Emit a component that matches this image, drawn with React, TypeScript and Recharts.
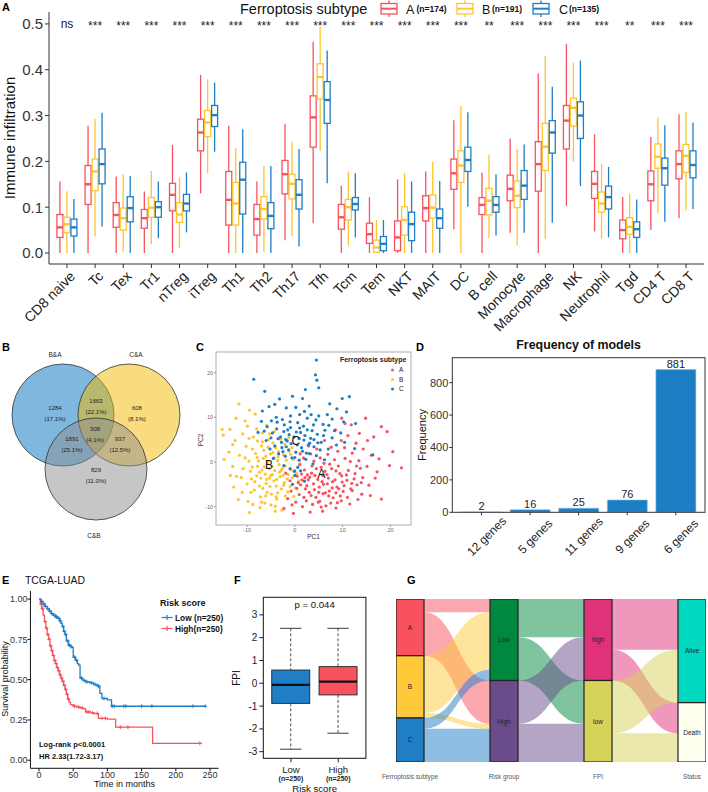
import React from "react";
import {
  Bar, BarChart, ComposedChart, LabelList, Line, Sankey, Scatter, ScatterChart, XAxis, YAxis,
} from "recharts";

const FONT = '"Liberation Sans", Arial, Helvetica, sans-serif';
const RED = "#F8525E";
const YELLOW = "#FEC52E";
const BLUE = "#1F7EC6";

// ---------- A: immune infiltration by ferroptosis subtype ----------
const cells = [
  "CD8 naive", "Tc", "Tex", "Tr1", "nTreg", "iTreg", "Th1", "Th2", "Th17", "Tfh", "Tcm", "Tem",
  "NKT", "MAIT", "DC", "B cell", "Monocyte", "Macrophage", "NK", "Neutrophil", "Tgd", "CD4 T", "CD8 T",
];
const sigLabels = [
  "ns", "***", "***", "***", "***", "***", "***", "***", "***", "***", "***", "***",
  "***", "***", "***", "**", "***", "***", "***", "***", "**", "***", "***",
];
// [min, q1, median, q3, max]
const boxA = [
  [0, 0.034, 0.056, 0.084, 0.156], [0, 0.106, 0.15, 0.191, 0.278], [0, 0.056, 0.083, 0.11, 0.167],
  [0, 0.054, 0.076, 0.095, 0.134], [0, 0.092, 0.127, 0.152, 0.236], [0.13, 0.223, 0.263, 0.292, 0.389],
  [0, 0.061, 0.116, 0.178, 0.278], [0, 0.039, 0.074, 0.106, 0.156], [0.028, 0.129, 0.172, 0.202, 0.282],
  [0.065, 0.231, 0.296, 0.343, 0.461], [0, 0.052, 0.078, 0.106, 0.147], [0, 0.021, 0.041, 0.065, 0.122],
  [0, 0.005, 0.034, 0.07, 0.161], [0, 0.07, 0.098, 0.125, 0.178], [0.052, 0.139, 0.174, 0.205, 0.29],
  [0, 0.084, 0.105, 0.121, 0.175], [0.044, 0.114, 0.14, 0.17, 0.25], [0, 0.135, 0.194, 0.243, 0.392],
  [0.103, 0.227, 0.289, 0.322, 0.456], [0.047, 0.119, 0.151, 0.178, 0.259], [0, 0.031, 0.05, 0.072, 0.122],
  [0.05, 0.114, 0.15, 0.179, 0.253], [0.076, 0.162, 0.194, 0.223, 0.303],
];
const boxB = [
  [0, 0.044, 0.063, 0.078, 0.135], [0.036, 0.136, 0.178, 0.205, 0.293], [0.003, 0.05, 0.076, 0.098, 0.172],
  [0.019, 0.078, 0.099, 0.121, 0.179], [0.01, 0.067, 0.084, 0.11, 0.165], [0.174, 0.254, 0.285, 0.311, 0.379],
  [0, 0.061, 0.108, 0.154, 0.229], [0.003, 0.074, 0.096, 0.123, 0.19], [0.037, 0.118, 0.151, 0.172, 0.243],
  [0.223, 0.336, 0.384, 0.413, 0.494], [0.016, 0.072, 0.1, 0.117, 0.178], [0, 0.002, 0.012, 0.028, 0.072],
  [0, 0.039, 0.072, 0.101, 0.175], [0, 0.076, 0.099, 0.127, 0.199], [0, 0.154, 0.191, 0.223, 0.321],
  [0.033, 0.083, 0.114, 0.141, 0.215], [0.017, 0.099, 0.125, 0.157, 0.227], [0.03, 0.18, 0.232, 0.283, 0.43],
  [0.199, 0.277, 0.317, 0.338, 0.415], [0.031, 0.089, 0.108, 0.133, 0.194], [0, 0.041, 0.057, 0.077, 0.129],
  [0.087, 0.185, 0.21, 0.238, 0.296], [0.092, 0.176, 0.212, 0.237, 0.308],
];
const boxC = [
  [0, 0.037, 0.056, 0.074, 0.118], [0.058, 0.151, 0.194, 0.227, 0.306], [0, 0.068, 0.098, 0.123, 0.168],
  [0.032, 0.078, 0.1, 0.112, 0.156], [0.045, 0.092, 0.108, 0.128, 0.176], [0.221, 0.276, 0.301, 0.322, 0.372],
  [0, 0.085, 0.16, 0.198, 0.27], [0, 0.053, 0.081, 0.11, 0.19], [0.014, 0.096, 0.127, 0.16, 0.227],
  [0.152, 0.283, 0.334, 0.374, 0.442], [0.034, 0.094, 0.107, 0.121, 0.174], [0, 0.005, 0.02, 0.036, 0.072],
  [0, 0.027, 0.063, 0.089, 0.156], [0, 0.054, 0.076, 0.096, 0.157], [0.101, 0.178, 0.203, 0.231, 0.307],
  [0.038, 0.089, 0.105, 0.123, 0.172], [0.044, 0.117, 0.147, 0.18, 0.237], [0.066, 0.218, 0.263, 0.289, 0.363],
  [0.146, 0.25, 0.3, 0.33, 0.42], [0.034, 0.096, 0.122, 0.146, 0.188], [0, 0.034, 0.052, 0.068, 0.117],
  [0.068, 0.148, 0.185, 0.207, 0.279], [0.096, 0.164, 0.192, 0.223, 0.285],
];
const SIG_Y = 0.5;

// ---------- B: venn ----------
const vennNames = ["B&A", "C&A", "C&B"];
const vennCx = [0, 1.294, 0.647];
const vennCy = [0, 0, -1.059];
const vennR = [1, 1, 1];
const vennNameX = [-0.157, 1.431, 0.608];
const vennNameY = [1.176, 1.176, -2.373];
const vennCounts = [1284, 1663, 608, 308, 1891, 937, 829];
const vennPct = ["17.1%", "22.1%", "8.1%", "4.1%", "25.1%", "12.5%", "11.0%"];
const vennLabelX = [-0.157, 0.647, 1.45, 0.63, 0.176, 1.118, 0.647];
const vennLabelY = [0.02, 0.17, 0.02, -0.39, -0.57, -0.57, -1.18];
const VX = [-1.235, 2.686];
const VY = [-2.549, 1.373];

// ---------- C: PCA ----------
const pcaA = [
  [0.5, -3.2], [1.2, -5.1], [2.0, -1.8], [2.8, -4.0], [3.5, -2.5], [4.1, -6.2], [4.8, -3.9], [5.5, -1.2], [6.0, -5.0], [6.7, -2.8],
  [7.3, -0.5], [7.9, -4.4], [8.6, -2.0], [9.2, -6.0], [9.8, -3.1], [10.5, 0.8], [11.2, -1.9], [11.9, -4.8], [12.6, -2.6], [13.4, 0.3],
  [14.2, -3.5], [15.1, -1.0], [16.0, 1.5], [17.2, -2.2], [18.1, -8.3], [18.1, 7.9], [19.3, 6.8], [20.5, 2.3], [22.3, -1.3], [19.8, -0.8],
  [-0.8, -6.5], [-1.5, -8.2], [-2.3, -10.4], [-1.0, -4.2], [0.2, -9.0], [0.9, -7.3], [1.6, -10.0], [2.4, -8.7], [3.0, -6.8], [3.7, -9.5],
  [4.4, -7.9], [5.2, -8.8], [5.9, -7.1], [6.5, -9.8], [7.2, -6.5], [8.0, -8.0], [8.8, -5.6], [9.5, -7.6], [10.3, -5.3], [11.0, -7.9],
  [12.0, -6.4], [13.0, -5.1], [14.0, -7.2], [1.0, -0.6], [1.8, 0.9], [2.6, -2.9], [3.3, 1.8], [4.0, 0.2], [4.6, 2.9], [5.3, 0.9],
  [6.1, -0.3], [6.9, 1.7], [7.6, 3.3], [8.3, 0.5], [9.0, 2.4], [9.7, 4.8], [10.4, 3.2], [11.1, 5.9], [12.0, 2.0], [12.8, 4.2],
  [13.5, 6.4], [14.3, 2.9], [15.2, 4.8], [16.5, 5.6], [9.8, 9.8], [10.5, 8.6], [14.8, 9.8], [8.5, 7.2], [11.8, 8.3], [0.0, -2.0],
  [0.7, -4.6], [1.4, -2.7], [2.2, -6.0], [3.1, -3.4], [3.9, -4.9], [4.5, -1.5], [5.1, -5.6], [5.8, -3.0], [6.4, -6.9], [7.0, -3.6],
  [7.7, -1.5], [8.4, -4.0], [9.1, -0.9], [9.9, -4.5], [10.8, -2.9], [11.6, 0.1], [12.4, -3.8], [13.7, -1.4], [15.5, -5.2], [16.8, -3.6],
  [17.6, 0.7], [-0.3, -11.5], [3.2, -11.2], [5.8, -11.0], [8.6, -10.3], [1.1, 1.8], [2.9, 3.6], [6.2, 4.8], [-1.9, -2.5],
  [1.5, -4.0], [2.5, -5.3], [3.4, -7.5], [4.2, -3.0], [5.0, -6.8], [5.7, -4.4], [6.3, -2.1], [7.1, -7.6], [7.8, -5.8], [8.6, -6.9],
  [9.4, -2.6], [10.1, -6.6], [10.9, -4.1], [11.7, -6.0], [12.9, -0.9], [13.9, -4.6], [3.6, -0.9], [4.9, -9.0], [6.8, -4.9], [8.9, -9.1],
  [2.1, -3.5], [0.4, -5.9], [-0.6, -9.6], [1.9, -7.9], [5.5, -10.1], [7.5, -9.2], [9.7, -8.7], [11.5, -9.4], [13.2, -8.4], [15.8, -7.5],
];
const pcaB = [
  [-15.2, 7.3], [-15.0, 6.0], [-13.6, 7.3], [-11.7, 13.0], [-9.5, 11.6], [-8.3, 10.7], [-10.4, 9.2], [-12.5, 4.8], [-13.8, 2.2], [-14.8, 0.6],
  [-13.0, -1.0], [-12.2, -3.2], [-11.0, -6.8], [-9.8, -8.8], [-7.3, -10.2], [-9.5, -11.3], [-5.0, -9.6], [-3.8, -8.3], [-2.7, -10.8], [-11.6, 1.5],
  [-10.8, -1.5], [-10.2, 3.5], [-9.6, 0.2], [-9.1, -3.8], [-8.7, 5.6], [-8.2, 1.9], [-7.8, -1.0], [-7.4, -5.4], [-7.0, 3.6], [-6.6, 0.8],
  [-6.2, -2.7], [-5.8, -6.8], [-5.5, 5.0], [-5.1, 1.8], [-4.8, -0.9], [-4.4, -4.2], [-4.0, 3.2], [-3.6, 0.3], [-3.2, -2.3], [-2.8, -6.0],
  [-2.4, 1.6], [-2.0, -0.9], [-1.6, -3.8], [-1.2, 2.4], [-0.8, -1.8], [-0.3, 0.6], [0.4, -2.6], [1.1, -0.4], [1.9, 0.8], [-10.0, -4.9],
  [-9.3, -2.1], [-8.9, 2.9], [-8.5, -6.3], [-8.0, -3.1], [-7.6, 0.2], [-7.2, -7.8], [-6.9, -1.8], [-6.5, 2.6], [-6.0, -4.8], [-5.7, -0.1],
  [-5.3, -3.6], [-4.9, -7.2], [-4.6, 4.3], [-4.2, -1.9], [-3.9, -5.4], [-3.5, 1.1], [-3.1, -3.3], [-2.6, -1.4], [-2.2, -4.6], [-1.8, 0.4],
  [-1.4, -2.8], [-1.0, -5.5], [-0.5, -3.5], [0.1, -5.8], [0.8, -4.2], [-8.0, 7.4], [-6.8, 6.5], [-5.9, 8.2], [-4.3, 6.8], [-3.0, 5.1],
  [-2.1, 4.0], [-1.3, 5.5], [-0.6, 3.2], [-6.3, -9.2], [-8.8, -9.5], [-4.1, -9.9], [-11.8, -8.4], [-12.8, -5.6], [-13.5, -3.0], [-7.8, 4.7],
  [-6.1, 1.3], [-5.4, -1.5], [-4.6, 2.1], [-3.3, -0.6], [-5.0, -3.0], [-6.7, -5.9], [-3.6, -6.9], [-2.0, -7.6], [-7.1, -3.6], [-9.6, 5.3],
  [-10.9, 6.3],
  [-6.4, -1.1], [-5.9, -3.9], [-5.2, -5.5], [-4.7, -2.8], [-4.3, 0.9], [-3.8, -3.9], [-3.4, 2.3], [-2.9, -1.9], [-2.5, -3.0], [-7.4, -2.3],
  [-7.9, 1.0], [-8.4, -4.4], [-8.9, -1.1], [-6.8, 4.5], [-5.6, 3.3], [-3.9, -7.8], [-6.1, -7.6], [-9.2, -6.8], [-10.4, 0.9], [-11.2, -3.5],
  [-1.5, -6.7], [-0.9, 1.7], [-2.3, -5.2], [-7.0, -9.0], [-5.3, 6.3], [-9.9, 8.0], [-12.3, 9.8], [-13.0, 3.9], [-4.1, -11.0], [-0.2, -7.7],
];
const pcaC = [
  [4.5, 22.8], [4.3, 19.5], [4.6, 18.3], [5.0, 16.6], [-8.6, 18.5], [-6.3, 15.8], [9.9, 14.2], [11.4, 14.6], [-5.4, 12.4], [-4.2, 12.9],
  [3.0, 12.5], [-1.8, 12.1], [0.2, 12.2], [1.6, 14.2], [6.8, 10.6], [7.8, 9.6], [-3.9, 10.0], [-7.0, 9.1], [-5.8, 7.9], [10.8, 11.2],
  [10.2, 9.0], [12.7, 8.6], [-2.6, 9.5], [-0.9, 10.3], [1.0, 10.6], [2.6, 9.8], [4.4, 9.4], [5.9, 8.4], [-4.7, 6.5], [-3.8, 7.4],
  [-3.0, 5.6], [-2.3, 6.8], [-1.6, 4.7], [-0.9, 7.7], [-0.2, 5.6], [0.5, 3.8], [1.2, 6.6], [1.9, 4.9], [2.6, 7.2], [3.3, 5.3],
  [4.0, 3.4], [4.7, 6.2], [5.5, 4.4], [6.3, 7.1], [7.0, 2.9], [7.8, 5.4], [8.7, 3.8], [9.6, 6.5], [10.4, 4.4], [-4.2, 3.6],
  [-3.4, 1.8], [-2.7, 3.2], [-2.0, 1.3], [-1.3, 2.7], [-0.6, 0.9], [0.2, 2.2], [0.9, 0.4], [1.6, 2.4], [2.3, 0.6], [3.0, 1.9],
  [3.8, -0.4], [4.5, 1.4], [5.3, 2.7], [6.2, 0.5], [-1.0, -1.5], [0.0, -3.0], [1.2, -2.0], [-2.3, -0.8], [2.0, -4.3], [-0.5, -5.0],
  [-6.0, 4.8], [-5.2, 2.9], [-4.5, 0.8], [-3.7, 8.9], [-2.2, 8.3], [-1.2, 6.1], [0.6, 8.8], [1.8, 8.0], [3.6, 7.0], [5.0, 10.3],
  [-6.8, 11.4], [-3.2, 14.1], [-0.5, 14.7], [2.2, 16.2], [7.3, 13.0], [8.8, 11.9], [16.3, 1.6], [12.5, 3.0], [-7.7, 6.6], [2.8, 3.8],
  [-1.9, 5.0], [0.9, 5.2], [4.0, 5.0],
  [-2.8, 4.4], [-1.8, 3.4], [-0.8, 4.1], [0.3, 6.7], [1.4, 3.2], [2.1, 5.9], [3.1, 4.2], [3.9, 8.3], [-3.5, 5.2], [-2.5, 2.3],
  [-1.5, 7.2], [0.0, 1.0], [1.0, 7.6], [2.4, 2.0], [4.8, 4.3], [6.0, 5.9], [-4.9, 9.2], [-1.0, 9.0], [2.0, 11.3], [3.4, 10.6],
  [7.1, 8.2], [8.3, 7.0], [-6.4, 6.9], [-5.0, 5.4], [0.6, -1.2], [-0.1, -2.1],
];
const pcaTags = ["A", "B", "C"];
const pcaTagX = [5.6, -5.4, 0.2];
const pcaTagY = [-2.7, -0.7, 4.8];

// ---------- D: model frequency ----------
const modelNames = ["12 genes", "5 genes", "11 genes", "9 genes", "6 genes"];
const modelFreq = [2, 16, 25, 76, 881];

// ---------- E: Kaplan-Meier ----------
const lowT = [0, 3, 6, 9, 12, 15, 18, 21, 24, 27, 30, 32, 34, 36, 38, 40, 43, 46, 48, 50, 53, 56, 58, 60, 64, 68, 74, 80, 85, 89, 92, 100, 106, 243];
const lowS = [1, 0.985, 0.97, 0.955, 0.94, 0.925, 0.91, 0.9, 0.89, 0.88, 0.865, 0.85, 0.83, 0.8, 0.78, 0.74, 0.715, 0.705, 0.7, 0.64, 0.62, 0.6, 0.59, 0.51, 0.495, 0.487, 0.48, 0.47, 0.46, 0.415, 0.383, 0.375, 0.335, 0.335];
const highT = [0, 2, 4, 6, 8, 10, 12, 14, 16, 18, 20, 22, 24, 26, 28, 30, 32, 34, 36, 38, 40, 42, 44, 46, 50, 55, 60, 65, 68, 75, 80, 87, 100, 112, 166, 238];
const highS = [1, 0.97, 0.94, 0.9, 0.86, 0.82, 0.78, 0.75, 0.71, 0.68, 0.65, 0.62, 0.6, 0.575, 0.555, 0.53, 0.51, 0.49, 0.465, 0.44, 0.41, 0.38, 0.36, 0.345, 0.335, 0.33, 0.325, 0.32, 0.3, 0.295, 0.29, 0.26, 0.255, 0.205, 0.105, 0.105];
const lowCensor = [4, 7, 9, 13, 16, 19, 22, 25, 26, 29, 31, 35, 37, 39, 42, 44, 47, 52, 55, 62, 66, 70, 77, 82, 87, 95, 107, 110, 124, 127, 150, 165, 225, 243];
const highCensor = [3, 5, 9, 11, 13, 15, 17, 19, 21, 23, 25, 27, 29, 31, 33, 35, 37, 39, 41, 43, 52, 58, 63, 70, 73, 78, 85, 92, 97, 119, 130, 235];

// ---------- F: FPI by risk ----------
const fpiGroups = ["Low", "High"];
const fpiN = [250, 250];
const fpiBoxes = [
  [-2.89, -0.88, -0.07, 0.58, 2.41],
  [-2.19, -0.51, 0.07, 0.73, 2.41],
];
const fpiColors = [BLUE, RED];

// ---------- G: alluvial ----------
const stageNodes = ["A", "B", "C", "Low", "High", "high", "low", "Alive", "Death"];
const stageColors = [RED, "#FFC93A", BLUE, "#00883F", "#6A4C8B", "#DF3278", "#D7D25A", "#00D8C0", "#FFFFF0"];
const linkSrc = [0, 0, 1, 1, 2, 2, 3, 3, 4, 4, 5, 5, 6, 6];
const linkTgt = [3, 4, 3, 4, 3, 4, 5, 6, 5, 6, 7, 8, 7, 8];
const linkVal = [41, 133, 176, 15, 33, 102, 117, 133, 133, 117, 156, 94, 162, 88];
const stageTitles = ["Ferroptosis subtype", "Risk group", "FPI", "Status"];

const immuneRows = cells.map((cat, i) => ({ cat, A: boxA[i], B: boxB[i], C: boxC[i], sig: sigLabels[i], sigY: SIG_Y }));

function boxShape(key: string, color: string) {
  return (p: any) => {
    const v = p.payload[key] as number[];
    const lo = v[0], hi = v[4];
    const py = (val: number) => p.y + ((hi - val) / (hi - lo)) * p.height;
    const cx = p.x + p.width / 2;
    const bx = p.x + 0.5, bw = p.width - 1;
    return (
      <g>
        <line x1={cx} x2={cx} y1={py(hi)} y2={py(v[3])} stroke={color} strokeWidth={1.3} />
        <line x1={cx} x2={cx} y1={py(v[1])} y2={py(lo)} stroke={color} strokeWidth={1.3} />
        <rect x={bx} y={py(v[3])} width={bw} height={py(v[1]) - py(v[3])} fill="#fff" stroke={color} strokeWidth={1.3} />
        <line x1={bx} x2={bx + bw} y1={py(v[2])} y2={py(v[2])} stroke={color} strokeWidth={2.4} />
      </g>
    );
  };
}

// right-aligned label, top-right corner at the tick
function SlantTick(p: any) {
  const fs = 14;
  const ax = p.x + 2;
  return (
    <g transform={`translate(${ax},${p.y}) rotate(-45)`}>
      <text x={0} y={0} dy={fs * 0.72} textAnchor="end" fontSize={fs} fill="#222">{p.payload.value}</text>
    </g>
  );
}

function ImmunePanel() {
  return (
    <ComposedChart width={708} height={345} data={immuneRows} margin={{ top: 12, right: 4, bottom: 0, left: 0 }}
      barGap={0} barCategoryGap="12.5%">
      <XAxis dataKey="cat" type="category" interval={0} height={81} padding={{ left: 3.9, right: 3.9 }}
        tickSize={4} tickMargin={2} stroke="#333" tick={<SlantTick />} />
      <YAxis type="number" domain={[-0.024, 0.526]} allowDataOverflow ticks={[0, 0.1, 0.2, 0.3, 0.4, 0.5]}
        tickFormatter={(v: number) => v.toFixed(1)} width={49} tickSize={4} tickMargin={2} stroke="#333"
        tick={{ fontSize: 15, fill: "#333" }} />
      <Bar dataKey={(d: any) => [d.A[0], d.A[4]]} shape={boxShape("A", RED)} isAnimationActive={false} />
      <Bar dataKey={(d: any) => [d.B[0], d.B[4]]} shape={boxShape("B", YELLOW)} isAnimationActive={false} />
      <Bar dataKey={(d: any) => [d.C[0], d.C[4]]} shape={boxShape("C", BLUE)} isAnimationActive={false} />
      <Scatter dataKey="sigY" isAnimationActive={false}
        shape={(p: any) => (
          <text x={p.cx} y={p.cy + (p.payload.sig === "ns" ? 4 : 6)} textAnchor="middle" fontSize={12} fill="#222">
            {p.payload.sig}
          </text>
        )} />
    </ComposedChart>
  );
}

function VennPanel() {
  const pxPerUnit = 200 / (VX[1] - VX[0]);
  const circles = vennNames.map((name, i) => ({ name, x: vennCx[i], y: vennCy[i], r: vennR[i], i }));
  const regions = vennCounts.map((n, i) => ({ n, pct: vennPct[i], x: vennLabelX[i], y: vennLabelY[i] }));
  const names = vennNames.map((name, i) => ({ name, x: vennNameX[i], y: vennNameY[i] }));
  const fills = ["#0070C0", "#F1B900", "#8D8D8D"];
  return (
    <ScatterChart width={200} height={200} margin={{ top: 0, right: 0, bottom: 0, left: 0 }}>
      <XAxis type="number" dataKey="x" domain={VX} hide allowDataOverflow />
      <YAxis type="number" dataKey="y" domain={VY} hide allowDataOverflow />
      <Scatter data={circles} isAnimationActive={false}
        shape={(p: any) => (
          <circle cx={p.cx} cy={p.cy} r={p.payload.r * pxPerUnit} fill={fills[p.payload.i]} fillOpacity={0.5}
            stroke="#333" strokeWidth={0.8} />
        )} />
      <Scatter data={regions} isAnimationActive={false}
        shape={(p: any) => (
          <g fontSize={6} fill="#222" textAnchor="middle">
            <text x={p.cx} y={p.cy - 3.5}>{p.payload.n}</text>
            <text x={p.cx} y={p.cy + 7.5}>({p.payload.pct})</text>
          </g>
        )} />
      <Scatter data={names} isAnimationActive={false}
        shape={(p: any) => (
          <text x={p.cx} y={p.cy + 2} fontSize={6.5} fill="#222" textAnchor="middle">{p.payload.name}</text>
        )} />
    </ScatterChart>
  );
}

function PcaPanel() {
  const rows = (pts: number[][]) => pts.map(([x, y]) => ({ x, y }));
  const dot = (color: string) => (p: any) => <circle cx={p.cx} cy={p.cy} r={1.6} fill={color} />;
  const tags = pcaTags.map((t, i) => ({ t, x: pcaTagX[i], y: pcaTagY[i] }));
  return (
    <ScatterChart width={225} height={205} margin={{ top: 12, right: 4, bottom: 0, left: 0 }}>
      <XAxis type="number" dataKey="x" domain={[-16.5, 24.3]} allowDataOverflow ticks={[-10, 0, 10, 20]} height={20}
        axisLine={false} tickSize={2} tickMargin={1} stroke="#999" tick={{ fontSize: 5.5, fill: "#666" }} />
      <YAxis type="number" dataKey="y" domain={[-14.1, 24.6]} allowDataOverflow ticks={[-10, 0, 10, 20]} width={26}
        axisLine={false} tickSize={2} tickMargin={1} stroke="#999" tick={{ fontSize: 5.5, fill: "#666" }} />
      <Scatter data={rows(pcaB)} shape={dot(YELLOW)} isAnimationActive={false} />
      <Scatter data={rows(pcaA)} shape={dot(RED)} isAnimationActive={false} />
      <Scatter data={rows(pcaC)} shape={dot(BLUE)} isAnimationActive={false} />
      <Scatter data={tags} isAnimationActive={false}
        shape={(p: any) => (
          <text x={p.cx} y={p.cy + 4} fontSize={12} fill="#111" textAnchor="middle">{p.payload.t}</text>
        )} />
    </ScatterChart>
  );
}

function ModelPanel() {
  const data = modelNames.map((name, i) => ({ name, freq: modelFreq[i] }));
  return (
    <BarChart width={293} height={230} data={data} margin={{ top: 22.7, right: 3, bottom: 20, left: 0 }} barCategoryGap="9%">
      <XAxis dataKey="name" type="category" interval={0} height={32.7} padding={{ left: 4.9, right: 4.9 }} axisLine={false}
        tickSize={3} tickMargin={2} stroke="#333" angle={-45}
        tick={{ fontSize: 12, fill: "#222", textAnchor: "middle", verticalAnchor: "middle", dx: 2, dy: 16 }} />
      <YAxis domain={[0, 954]} allowDataOverflow ticks={[0, 200, 400, 600, 800]} width={37.3} axisLine={false}
        tickSize={3} tickMargin={1} stroke="#333" tick={{ fontSize: 11, fill: "#333" }} />
      <Bar dataKey="freq" fill="#1D7EC4" stroke="#8CC0E6" strokeWidth={0.6} isAnimationActive={false}>
        <LabelList dataKey="freq" position="top" offset={2} fontSize={11} fill="#222" />
      </Bar>
    </BarChart>
  );
}

const stepAt = (ts: number[], ss: number[], t: number) => {
  let s = ss[0];
  ts.forEach((tt, i) => { if (tt <= t) s = ss[i]; });
  return s;
};

function SurvivalPanel() {
  const lowRows = lowT.map((t, i) => ({ t, s: lowS[i] }));
  const highRows = highT.map((t, i) => ({ t, s: highS[i] }));
  const lowMarks = lowCensor.map((t) => ({ t, s: stepAt(lowT, lowS, t) }));
  const highMarks = highCensor.map((t) => ({ t, s: stepAt(highT, highS, t) }));
  const plus = (color: string) => (p: any) => (
    <g stroke={color} strokeWidth={0.9}>
      <line x1={p.cx - 2} x2={p.cx + 2} y1={p.cy} y2={p.cy} />
      <line x1={p.cx} x2={p.cx} y1={p.cy - 2} y2={p.cy + 2} />
    </g>
  );
  return (
    <ComposedChart width={222} height={222} margin={{ top: 21, right: 3.4, bottom: 0, left: 0 }}>
      <XAxis type="number" dataKey="t" domain={[-12.5, 262.5]} allowDataOverflow ticks={[0, 50, 100, 150, 200, 250]}
        height={23.7} tickSize={3} tickMargin={0} stroke="#111" tick={{ fontSize: 9, fill: "#333" }} />
      <YAxis type="number" domain={[-0.05, 1.05]} allowDataOverflow ticks={[0, 0.25, 0.5, 0.75, 1]}
        tickFormatter={(v: number) => v.toFixed(2)} width={30.45} tickSize={3} tickMargin={0} stroke="#111"
        tick={{ fontSize: 9, fill: "#333" }} />
      <Line data={highRows} dataKey="s" type="stepAfter" stroke={RED} strokeWidth={1.3} dot={false} isAnimationActive={false} />
      <Line data={lowRows} dataKey="s" type="stepAfter" stroke={BLUE} strokeWidth={1.3} dot={false} isAnimationActive={false} />
      <Scatter data={highMarks} dataKey="s" shape={plus(RED)} isAnimationActive={false} />
      <Scatter data={lowMarks} dataKey="s" shape={plus(BLUE)} isAnimationActive={false} />
    </ComposedChart>
  );
}

function FpiPanel() {
  const data = fpiGroups.map((g, i) => ({ g, v: fpiBoxes[i] }));
  const shape = (p: any) => {
    const v = p.payload.v as number[];
    const lo = v[0], hi = v[4];
    const py = (val: number) => p.y + ((hi - val) / (hi - lo)) * p.height;
    const cx = p.x + p.width / 2;
    const cap = p.width * 0.28;
    return (
      <g stroke="#222">
        <line x1={cx} x2={cx} y1={py(hi)} y2={py(v[3])} strokeDasharray="3 2" strokeWidth={0.8} />
        <line x1={cx} x2={cx} y1={py(v[1])} y2={py(lo)} strokeDasharray="3 2" strokeWidth={0.8} />
        <line x1={cx - cap} x2={cx + cap} y1={py(hi)} y2={py(hi)} strokeWidth={0.9} />
        <line x1={cx - cap} x2={cx + cap} y1={py(lo)} y2={py(lo)} strokeWidth={0.9} />
        <rect x={p.x} y={py(v[3])} width={p.width} height={py(v[1]) - py(v[3])} fill={fpiColors[p.index]} strokeWidth={0.9} />
        <line x1={p.x} x2={p.x + p.width} y1={py(v[2])} y2={py(v[2])} strokeWidth={2.3} stroke="#111" />
      </g>
    );
  };
  return (
    <BarChart width={140} height={207} data={data} margin={{ top: 12.3, right: 4.1, bottom: 0, left: 0 }} barCategoryGap="9.4%">
      <XAxis dataKey="g" interval={0} height={33.7} padding={{ left: 4, right: 4 }} axisLine={false} tickSize={4}
        tickMargin={2} stroke="#222"
        tick={(p: any) => (
          <g fill="#222" textAnchor="middle">
            <text x={p.x} y={p.y + 9} fontSize={9.6}>{p.payload.value}</text>
            <text x={p.x} y={p.y + 17} fontSize={7} fontWeight="bold">(n={fpiN[p.index]})</text>
          </g>
        )} />
      <YAxis domain={[-3.29, 3.77]} allowDataOverflow ticks={[-3, -2, -1, 0, 1, 2, 3]} width={33.3} axisLine={false}
        tickSize={4} tickMargin={2} stroke="#222" tick={{ fontSize: 10, fill: "#222" }} />
      <Bar dataKey={(d: any) => [d.v[0], d.v[4]]} shape={shape} isAnimationActive={false} />
    </BarChart>
  );
}

function StageNode(p: any) {
  return (
    <g>
      <rect x={p.x} y={p.y} width={p.width} height={p.height} fill={stageColors[p.index]} stroke="#222" strokeWidth={1.2} />
      <text x={p.x + p.width / 2} y={p.y + p.height / 2 + 2.3} fontSize={6.5} fill="#222" textAnchor="middle">
        {stageNodes[p.index]}
      </text>
    </g>
  );
}

function FlowRibbon(p: any) {
  const h = p.linkWidth / 2;
  const { sourceX: sx, targetX: tx, sourceY: sy, targetY: ty, sourceControlX: sc, targetControlX: tc } = p;
  const d = `M${sx},${sy - h} C${sc},${sy - h} ${tc},${ty - h} ${tx},${ty - h} L${tx},${ty + h} ` +
    `C${tc},${ty + h} ${sc},${sy + h} ${sx},${sy + h} Z`;
  return <path d={d} fill={stageColors[linkSrc[p.index]]} fillOpacity={0.5} stroke="none" />;
}

function AlluvialPanel() {
  const data = {
    nodes: stageNodes.map((name) => ({ name })),
    links: linkSrc.map((s, i) => ({ source: s, target: linkTgt[i], value: linkVal[i] })),
  };
  return (
    <Sankey width={310} height={163} data={data} nodeWidth={28} nodePadding={0} iterations={0}
      margin={{ top: 0, right: 0, bottom: 0, left: 0 }}
      node={(p: any) => <StageNode {...p} />} link={(p: any) => <FlowRibbon {...p} />} />
  );
}

function BoxKey({ x, color }: { x: number; color: string }) {
  return (
    <g stroke={color} strokeWidth={1.3} fill="#fff">
      <line x1={x + 8} x2={x + 8} y1={0.5} y2={17} />
      <rect x={x} y={3.5} width={16} height={10.5} />
      <line x1={x} x2={x + 16} y1={8.7} y2={8.7} strokeWidth={2} />
    </g>
  );
}

function Overlay() {
  const letter = (t: string, x: number, y: number) => (
    <text x={x} y={y} fontSize={11} fontWeight="bold" fill="#000">{t}</text>
  );
  const colCenters = [410, 504, 598, 692];
  return (
    <svg width={708} height={792} fontFamily={FONT}
      style={{ position: "absolute", left: 0, top: 0, pointerEvents: "none", overflow: "visible" }}>
      {letter("A", 2, 10.5)}
      {letter("B", 2, 350.5)}
      {letter("C", 196, 350.5)}
      {letter("D", 416, 350.5)}
      {letter("E", 2, 584)}
      {letter("F", 234, 584)}
      {letter("G", 407, 584)}

      {/* A legend + y title */}
      <text x={240} y={14} fontSize={14.5} fill="#111">Ferroptosis subtype</text>
      <BoxKey x={381} color={RED} />
      <BoxKey x={457} color={YELLOW} />
      <BoxKey x={533} color={BLUE} />
      <text x={406} y={14} fontSize={12.5} fill="#111">A</text>
      <text x={416.5} y={11.5} fontSize={8.5} fontWeight="bold" fill="#111">(n=174)</text>
      <text x={482} y={14} fontSize={12.5} fill="#111">B</text>
      <text x={492} y={11.5} fontSize={8.5} fontWeight="bold" fill="#111">(n=191)</text>
      <text x={559} y={14} fontSize={12.5} fill="#111">C</text>
      <text x={569} y={11.5} fontSize={8.5} fontWeight="bold" fill="#111">(n=135)</text>
      <text x={15} y={138} fontSize={15} fill="#111" textAnchor="middle" transform="rotate(-90 15 138)">Immune infiltration</text>

      {/* C frame, titles, legend */}
      <rect x={216} y={352} width={195} height={173} fill="none" stroke="#999" strokeWidth={0.8} />
      <text x={202.5} y={440} fontSize={6.5} fill="#333" textAnchor="middle" transform="rotate(-90 202.5 440)">PC2</text>
      <text x={313.5} y={538.5} fontSize={6.5} fill="#333" textAnchor="middle">PC1</text>
      <text x={340} y={362} fontSize={6.9} fontWeight="bold" fill="#222">Ferroptosis subtype</text>
      <circle cx={392.5} cy={370} r={1.5} fill={RED} />
      <circle cx={392.5} cy={379.5} r={1.5} fill={YELLOW} />
      <circle cx={392.5} cy={389} r={1.5} fill={BLUE} />
      <text x={399} y={372.3} fontSize={6.5} fill="#222">A</text>
      <text x={399} y={381.8} fontSize={6.5} fill="#222">B</text>
      <text x={399} y={391.3} fontSize={6.5} fill="#222">C</text>

      {/* D frame, titles */}
      <rect x={452.3} y={357.7} width={252.7} height={154.6} fill="none" stroke="#333" strokeWidth={1} />
      <text x={578.6} y={349} fontSize={12.4} fontWeight="bold" fill="#111" textAnchor="middle">Frequency of models</text>
      <text x={425.5} y={435} fontSize={11} fill="#111" textAnchor="middle" transform="rotate(-90 425.5 435)">Frequency</text>

      {/* E texts */}
      <text x={25} y={584} fontSize={10.4} fill="#111">TCGA-LUAD</text>
      <text x={160} y={606} fontSize={9} fontWeight="bold" fill="#111">Risk score</text>
      <g stroke={BLUE} strokeWidth={1.2}>
        <line x1={161.5} x2={172.5} y1={617.5} y2={617.5} />
        <line x1={167} x2={167} y1={615} y2={620} />
      </g>
      <g stroke={RED} strokeWidth={1.2}>
        <line x1={161.5} x2={172.5} y1={628.5} y2={628.5} />
        <line x1={167} x2={167} y1={626} y2={631} />
      </g>
      <text x={175} y={620.8} fontSize={8.3} fontWeight="bold" fill="#111">Low (n=250)</text>
      <text x={175} y={631.8} fontSize={8.3} fontWeight="bold" fill="#111">High(n=250)</text>
      <text x={39} y={747} fontSize={7.5} fontWeight="bold" fill="#111">Log-rank p&lt;0.0001</text>
      <text x={39} y={759} fontSize={7.5} fontWeight="bold" fill="#111">HR 2.33(1.72-3.17)</text>
      <text x={8} y={679} fontSize={9} fill="#111" textAnchor="middle" transform="rotate(-90 8 679)">Survival probability</text>
      <text x={124.5} y={787} fontSize={9} fill="#111" textAnchor="middle">Time in months</text>

      {/* F frame, texts */}
      <rect x={263.3} y={597.3} width={102.6} height={161} fill="none" stroke="#111" strokeWidth={1} />
      <text x={314.6} y={608} fontSize={9.6} fill="#111" textAnchor="middle">p = 0.044</text>
      <text x={239.5} y={678} fontSize={10} fill="#111" textAnchor="middle" transform="rotate(-90 239.5 678)">FPI</text>
      <text x={314.6} y={791.5} fontSize={9.6} fill="#111" textAnchor="middle">Risk score</text>

      {/* G axis titles */}
      {stageTitles.map((t, i) => (
        <text key={t} x={colCenters[i]} y={779} fontSize={6.4} fill="#555" textAnchor="middle">{t}</text>
      ))}
    </svg>
  );
}

export default function App() {
  return (
    <div style={{ position: "absolute", left: 0, top: 0, width: 708, height: 792, background: "#fff", fontFamily: FONT, overflow: "hidden" }}>
      <div style={{ position: "absolute", left: 0, top: 0 }}><ImmunePanel /></div>
      <div style={{ position: "absolute", left: 0, top: 345 }}><VennPanel /></div>
      <div style={{ position: "absolute", left: 190, top: 340 }}><PcaPanel /></div>
      <div style={{ position: "absolute", left: 415, top: 335 }}><ModelPanel /></div>
      <div style={{ position: "absolute", left: 0, top: 570 }}><SurvivalPanel /></div>
      <div style={{ position: "absolute", left: 230, top: 585 }}><FpiPanel /></div>
      <div style={{ position: "absolute", left: 396, top: 599 }}><AlluvialPanel /></div>
      <Overlay />
    </div>
  );
}
